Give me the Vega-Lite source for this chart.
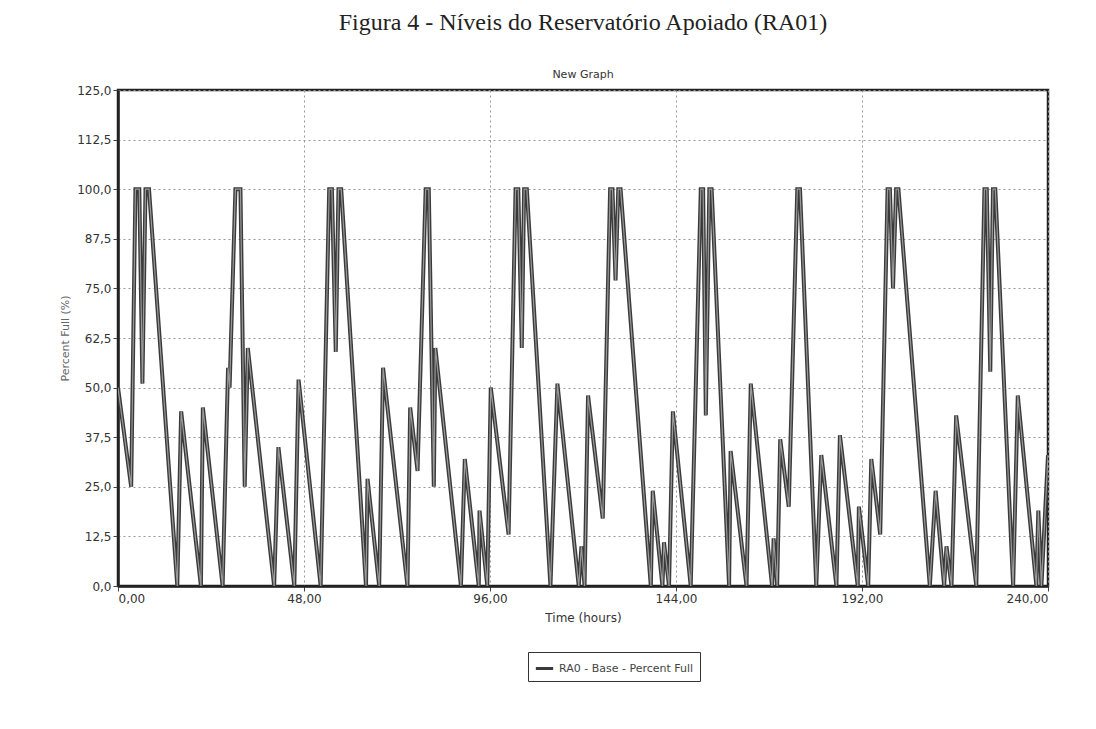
{
  "$schema": "https://vega.github.io/schema/vega-lite/v6.json",
  "autosize": {"type": "none"},
  "width": 930,
  "height": 496,
  "padding": {"left": 118, "top": 90, "right": 48, "bottom": 143},
  "background": "white",
  "config": {
    "locale": {"number": {"decimal": ",", "thousands": ".", "grouping": [3], "currency": ["", ""]}},
    "view": {"stroke": "#222222", "strokeWidth": 2.5},
    "font": "DejaVu Sans"
  },
  "title": {
    "text": "Figura 4 - Níveis do Reservatório Apoiado (RA01)",
    "subtitle": "New Graph",
    "font": "Liberation Serif",
    "fontSize": 24,
    "fontWeight": "normal",
    "color": "#222222",
    "subtitleFont": "DejaVu Sans",
    "subtitleFontSize": 11,
    "subtitleColor": "#333333",
    "subtitlePadding": 34,
    "offset": 4,
    "anchor": "middle"
  },
  "data": {
    "values": [
      {"t": 0, "v": 50}, {"t": 3.4, "v": 25}, {"t": 4.5, "v": 100}, {"t": 5.5, "v": 100},
      {"t": 6.3, "v": 51}, {"t": 7.1, "v": 100}, {"t": 8, "v": 100}, {"t": 15.3, "v": 0},
      {"t": 16.3, "v": 44}, {"t": 21.4, "v": 0}, {"t": 21.9, "v": 45}, {"t": 27, "v": 0},
      {"t": 28.4, "v": 55}, {"t": 28.8, "v": 50}, {"t": 30.3, "v": 100}, {"t": 31.6, "v": 100},
      {"t": 32.7, "v": 25}, {"t": 33.5, "v": 60}, {"t": 40.3, "v": 0}, {"t": 41.4, "v": 35},
      {"t": 45.5, "v": 0}, {"t": 46.6, "v": 52}, {"t": 52.3, "v": 0}, {"t": 54.5, "v": 100},
      {"t": 55.2, "v": 100}, {"t": 56.2, "v": 59}, {"t": 56.9, "v": 100}, {"t": 57.6, "v": 100},
      {"t": 64, "v": 0}, {"t": 64.4, "v": 27}, {"t": 67.4, "v": 0}, {"t": 68.4, "v": 55},
      {"t": 74.7, "v": 0}, {"t": 75.4, "v": 45}, {"t": 77.3, "v": 29}, {"t": 79.4, "v": 100},
      {"t": 80.2, "v": 100}, {"t": 81.5, "v": 25}, {"t": 81.9, "v": 60}, {"t": 88.5, "v": 0},
      {"t": 89.5, "v": 32}, {"t": 93.1, "v": 0}, {"t": 93.3, "v": 19}, {"t": 95.3, "v": 0},
      {"t": 96.2, "v": 50}, {"t": 100.8, "v": 13}, {"t": 102.6, "v": 100}, {"t": 103.3, "v": 100},
      {"t": 104.2, "v": 60}, {"t": 104.8, "v": 100}, {"t": 105.5, "v": 100}, {"t": 111.6, "v": 0},
      {"t": 113.4, "v": 51}, {"t": 118.9, "v": 0}, {"t": 119.6, "v": 10}, {"t": 120.4, "v": 0},
      {"t": 121.3, "v": 48}, {"t": 125.1, "v": 17}, {"t": 127, "v": 100}, {"t": 127.6, "v": 100},
      {"t": 128.4, "v": 77}, {"t": 129.1, "v": 100}, {"t": 129.7, "v": 100}, {"t": 137.5, "v": 0},
      {"t": 138, "v": 24}, {"t": 140.5, "v": 0}, {"t": 140.9, "v": 11}, {"t": 142.2, "v": 0},
      {"t": 143.2, "v": 44}, {"t": 147.8, "v": 0}, {"t": 150.4, "v": 100}, {"t": 151, "v": 100},
      {"t": 151.7, "v": 43}, {"t": 152.6, "v": 100}, {"t": 153.2, "v": 100}, {"t": 157.7, "v": 0},
      {"t": 158.1, "v": 34}, {"t": 162.2, "v": 0}, {"t": 163.3, "v": 51}, {"t": 168.8, "v": 0},
      {"t": 169.2, "v": 12}, {"t": 170.1, "v": 0}, {"t": 170.9, "v": 37}, {"t": 173.1, "v": 20},
      {"t": 175.3, "v": 100}, {"t": 176, "v": 100}, {"t": 180.2, "v": 0}, {"t": 181.5, "v": 33},
      {"t": 185.4, "v": 0}, {"t": 186.3, "v": 38}, {"t": 190.9, "v": 0}, {"t": 191.2, "v": 20},
      {"t": 193.6, "v": 0}, {"t": 194.4, "v": 32}, {"t": 196.7, "v": 13}, {"t": 198.6, "v": 100},
      {"t": 199.2, "v": 100}, {"t": 200, "v": 75}, {"t": 200.8, "v": 100}, {"t": 201.4, "v": 100},
      {"t": 209.5, "v": 0}, {"t": 211, "v": 24}, {"t": 213.2, "v": 0}, {"t": 213.8, "v": 10},
      {"t": 215.1, "v": 0}, {"t": 216.3, "v": 43}, {"t": 221.5, "v": 0}, {"t": 223.6, "v": 100},
      {"t": 224.2, "v": 100}, {"t": 225.1, "v": 54}, {"t": 225.8, "v": 100}, {"t": 226.4, "v": 100},
      {"t": 231, "v": 0}, {"t": 232.2, "v": 48}, {"t": 237, "v": 0}, {"t": 237.5, "v": 19},
      {"t": 238.3, "v": 0}, {"t": 240, "v": 33}
    ]
  },
  "layer": [
    {
      "mark": {"type": "line", "strokeWidth": 4, "strokeJoin": "miter", "strokeMiterLimit": 3, "clip": true},
      "encoding": {
        "x": {
          "field": "t", "type": "quantitative",
          "scale": {"domain": [0, 240], "nice": false, "zero": false},
          "axis": {
            "title": "Time (hours)", "values": [0, 48, 96, 144, 192, 240], "format": ".2f",
            "labelFontSize": 12, "labelColor": "#333333", "titleFontSize": 12, "titleFontWeight": "normal",
            "titleColor": "#333333", "titlePadding": 8, "tickColor": "#444444", "domainColor": "#222222", "domainWidth": 2.5,
            "grid": true, "gridColor": "#999999", "gridDash": [2, 3], "gridWidth": 1
          }
        },
        "y": {
          "field": "v", "type": "quantitative",
          "scale": {"domain": [0, 125], "nice": false},
          "axis": {
            "title": "Percent Full (%)", "values": [0, 12.5, 25, 37.5, 50, 62.5, 75, 87.5, 100, 112.5, 125], "format": ".1f",
            "labelFontSize": 12, "labelColor": "#333333", "titleFontSize": 11, "titleFontWeight": "normal",
            "titleColor": "#666666", "titlePadding": 6, "tickColor": "#444444", "domainColor": "#222222", "domainWidth": 2.5,
            "grid": true, "gridColor": "#999999", "gridDash": [2, 3], "gridWidth": 1
          }
        },
        "color": {
          "datum": "RA0 - Base - Percent Full",
          "type": "nominal",
          "scale": {"range": ["#3a3a3a"]},
          "legend": {
            "title": null, "orient": "none", "legendX": 410, "legendY": 562,
            "direction": "horizontal", "symbolType": "stroke", "symbolStrokeWidth": 3, "symbolSize": 300,
            "labelFontSize": 11, "labelColor": "#444444",
            "strokeColor": "#333333", "padding": 6, "fillColor": "white"
          }
        }
      }
    },
    {
      "mark": {"type": "line", "strokeWidth": 1.2, "color": "#9a9a9a", "strokeJoin": "miter", "clip": true},
      "encoding": {
        "x": {"field": "t", "type": "quantitative"},
        "y": {"field": "v", "type": "quantitative"}
      }
    }
  ]
}
